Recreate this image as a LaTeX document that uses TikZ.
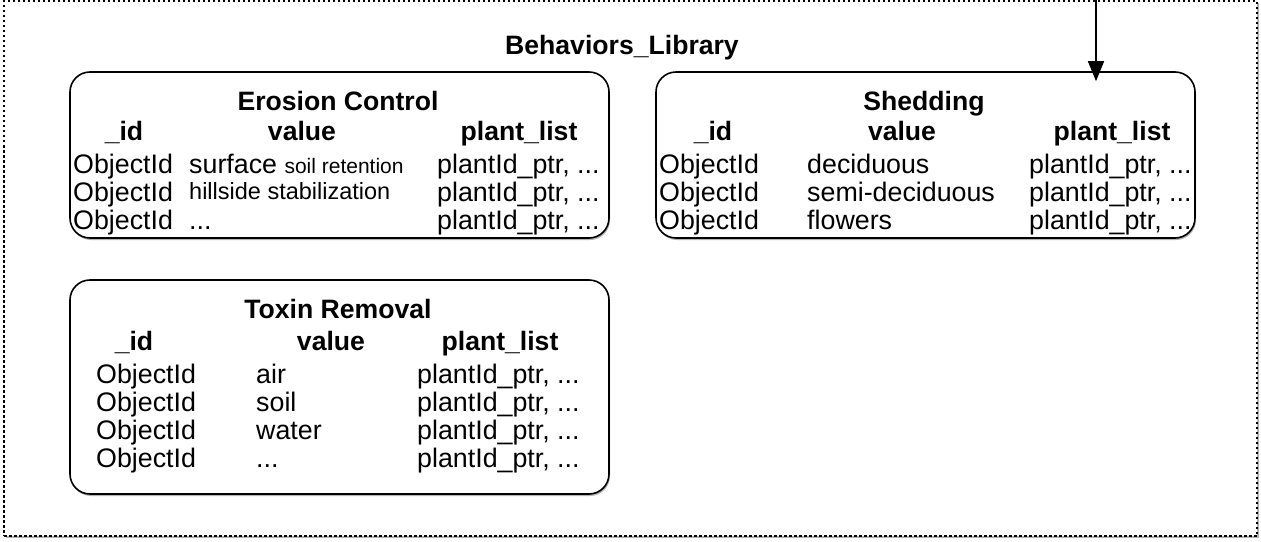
\documentclass[tikz,border=0pt]{standalone}
\usepackage{fontspec}
\setmainfont{Liberation Sans}
\usetikzlibrary{arrows.meta,shadows}
\tikzset{
  lib/.style={draw, fill=white, line width=2pt, dash pattern=on 2.5pt off 2.5pt, inner sep=0pt,
    drop shadow={shadow xshift=1.5pt, shadow yshift=-1.5pt, fill=black, opacity=0.3}},
  tbl/.style={draw, line width=1.6pt, rounded corners=20pt, fill=white, inner sep=0pt,
    drop shadow={shadow xshift=1pt, shadow yshift=-2pt, fill=black, opacity=0.3}},
  txt/.style={inner sep=0pt, font=\fontsize{26.8}{28}\selectfont, anchor=base west},
  hd/.style={inner sep=0pt, font=\fontsize{26.6}{28}\selectfont\bfseries, anchor=base},
  conn/.style={line width=1.5pt, -{Triangle[length=20pt,width=16pt]}},
}
\begin{document}
\begin{tikzpicture}[x=1pt,y=-1pt]
\useasboundingbox (0,0) rectangle (1261,541);
% outer library frame
\node[lib, minimum width=1253pt, minimum height=535pt] (lib) at (630.5,268.5) {};
\node[hd] (libtitle) at (622,54) {Behaviors\_Library};

% tables
\node[tbl, minimum width=539pt, minimum height=166pt] (ero) at (339.5,155) {};
\node[tbl, minimum width=539pt, minimum height=166pt] (shed) at (925.5,155) {};
\node[tbl, minimum width=539pt, minimum height=214pt] (tox) at (339.5,387) {};

% Erosion Control
\node[hd] (eroT) at (338,110) {Erosion Control};
\node[hd] (eroH1) at (124,140) {\_id};
\node[hd] (eroH2) at (302,140) {value};
\node[hd] (eroH3) at (519,140) {plant\_list};
\node[txt] (eroA1) at (73,173) {ObjectId};
\node[txt] (eroA2) at (73,201) {ObjectId};
\node[txt] (eroA3) at (73,229) {ObjectId};
\node[txt] (eroB1) at (189,173) {surface \fontsize{21}{24}\selectfont soil retention};
\node[txt] (eroB2) at (189,199) {\fontsize{23.5}{26}\selectfont hillside stabilization};
\node[txt] (eroB3) at (189,229) {...};
\node[txt] (eroC1) at (437,173) {plantId\_ptr, ...};
\node[txt] (eroC2) at (437,201) {plantId\_ptr, ...};
\node[txt] (eroC3) at (437,229) {plantId\_ptr, ...};

% Shedding
\node[hd] (shedT) at (924,110) {Shedding};
\node[hd] (shedH1) at (713,140) {\_id};
\node[hd] (shedH2) at (902,140) {value};
\node[hd] (shedH3) at (1112,140) {plant\_list};
\node[txt] (shedA1) at (659,173) {ObjectId};
\node[txt] (shedA2) at (659,201) {ObjectId};
\node[txt] (shedA3) at (659,229) {ObjectId};
\node[txt] (shedB1) at (807,173) {deciduous};
\node[txt] (shedB2) at (807,201) {semi-deciduous};
\node[txt] (shedB3) at (807,229) {flowers};
\node[txt] (shedC1) at (1029,173) {plantId\_ptr, ...};
\node[txt] (shedC2) at (1029,201) {plantId\_ptr, ...};
\node[txt] (shedC3) at (1029,229) {plantId\_ptr, ...};

% Toxin Removal
\node[hd] (toxT) at (338,318) {Toxin Removal};
\node[hd] (toxH1) at (134,350) {\_id};
\node[hd] (toxH2) at (331,350) {value};
\node[hd] (toxH3) at (500,350) {plant\_list};
\node[txt] (toxA1) at (96,383) {ObjectId};
\node[txt] (toxA2) at (96,411) {ObjectId};
\node[txt] (toxA3) at (96,439) {ObjectId};
\node[txt] (toxA4) at (96,467) {ObjectId};
\node[txt] (toxB1) at (256,383) {air};
\node[txt] (toxB2) at (256,411) {soil};
\node[txt] (toxB3) at (256,439) {water};
\node[txt] (toxB4) at (256,467) {...};
\node[txt] (toxC1) at (417,383) {plantId\_ptr, ...};
\node[txt] (toxC2) at (417,411) {plantId\_ptr, ...};
\node[txt] (toxC3) at (417,439) {plantId\_ptr, ...};
\node[txt] (toxC4) at (417,467) {plantId\_ptr, ...};

% incoming connector
\coordinate (src) at (1096,0);
\draw[conn, shorten >=-10pt] (src) -- (src |- shed.north);
\end{tikzpicture}
\end{document}
